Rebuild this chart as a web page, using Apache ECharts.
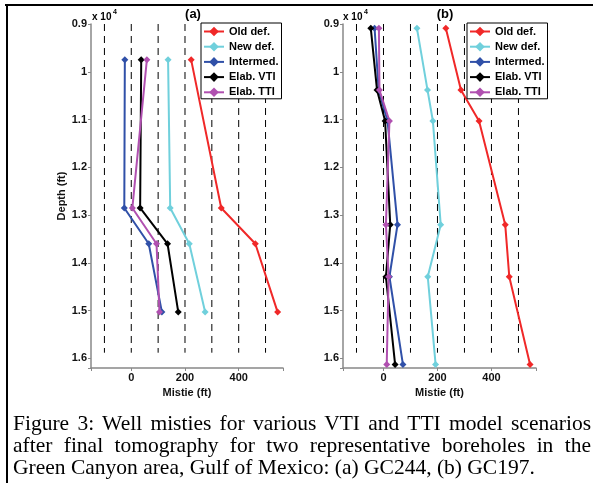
<!DOCTYPE html>
<html>
<head>
<meta charset="utf-8">
<script src="https://cdn.jsdelivr.net/npm/echarts@6/dist/echarts.min.js"></script>
<style>
html,body{margin:0;padding:0;background:#fff;}
#wrap{position:relative;width:593px;height:483px;overflow:hidden;background:#fff;}
#chart{position:absolute;left:0;top:0;width:593px;height:483px;}
#caption{position:absolute;left:13px;top:412px;width:578px;font-family:'Liberation Serif','Times New Roman',serif;font-size:21.5px;line-height:22px;color:#000;}
#caption .j{text-align:justify;text-align-last:justify;}
#caption .l{text-align:left;}
</style>
</head>
<body>
<div id="wrap">
  <div id="chart"></div>
  <div id="caption">
    <div class="j">Figure 3: Well misties for various VTI and TTI model scenarios</div>
    <div class="j">after final tomography for two representative boreholes in the</div>
    <div class="l">Green Canyon area, Gulf of Mexico: (a) GC244, (b) GC197.</div>
  </div>
</div>
<script>
// ---- data ----
const seriesNames = ['Old def.', 'New def.', 'Intermed.', 'Elab. VTI', 'Elab. TTI'];
const seriesColors = ['#f02828', '#70d0dc', '#3050a8', '#000000', '#b050b0'];

// (a) GC244 : depth (ft) and misties (ft)
const depthA = [9750, 12850, 13600, 15030];
const oldA   = [223, 335, 462, 545];
const newA   = [137, 145, 216, 275];
const interA = [-24, -26, 65, 114];
const vtiA   = [37, 33, 135, 175];
const ttiA   = [58, 4, 94, 105];

// (b) GC197
const depthB = [9090, 10380, 11030, 13200, 14290, 16125];
const oldB   = [231, 287, 354, 451, 466, 543];
const newB   = [124, 163, 183, 212, 164, 193];
const interB = [-33, -18, 15, 52, 22, 72];
const vtiB   = [-47, -24, 6, 25, 9, 43];
const ttiB   = [-17, -15, 22, 9, 19, 12];

// dashed reference lines (misties, ft) and their depth span
const refX = [-100, 0, 100, 200, 300, 400, 500];
const refDepth = [9000, 15880];

// axes
const xTickValues = [0, 200, 400];
const yTickValues = [9000, 10000, 11000, 12000, 13000, 14000, 15000, 16000];
const yTickLabels = ['0.9', '1', '1.1', '1.2', '1.3', '1.4', '1.5', '1.6'];
const panelLabels = ['(a)', '(b)'];

// ---- chart ----
const FONT = 'Liberation Sans, Arial, Helvetica, sans-serif';
const chart = echarts.init(document.getElementById('chart'), null, {renderer: 'canvas'});

const panels = [
  {depth: depthA, vals: [oldA, newA, interA, vtiA, ttiA]},
  {depth: depthB, vals: [oldB, newB, interB, vtiB, ttiB]}
];
const gridsPos = [
  {left: 91, top: 24, width: 192, height: 344},
  {left: 343, top: 24, width: 193, height: 344}
];

const grids = [], xAxes = [], yAxes = [], series = [], legends = [];
const axisColor = '#888';

panels.forEach((p, g) => {
  grids.push(Object.assign({containLabel: false}, gridsPos[g]));
  xAxes.push({
    gridIndex: g, type: 'value', min: -150, max: 565,
    splitNumber: 4, minInterval: 200, maxInterval: 200,
    axisLine: {show: true, onZero: false, lineStyle: {color: axisColor, width: 1.5}},
    axisTick: {show: true, inside: false, length: 3, lineStyle: {color: axisColor}},
    axisLabel: {margin: 4, fontFamily: FONT, fontWeight: 'bold', fontSize: 11, color: '#111',
      formatter: v => xTickValues.indexOf(v) >= 0 ? String(v) : ''},
    splitLine: {show: false},
    name: 'Mistie (ft)', nameLocation: 'middle', nameGap: 15,
    nameTextStyle: {fontFamily: FONT, fontWeight: 'bold', fontSize: 11, color: '#111'}
  });
  yAxes.push({
    gridIndex: g, type: 'value', inverse: true, min: 9000, max: 16200, interval: 1000,
    axisLine: {show: true, onZero: false, lineStyle: {color: axisColor, width: 1.5}},
    axisTick: {show: true, inside: false, length: 3, lineStyle: {color: axisColor}},
    axisLabel: {margin: 4, fontFamily: FONT, fontWeight: 'bold', fontSize: 11, color: '#111',
      formatter: v => { const i = yTickValues.indexOf(v); return i >= 0 ? yTickLabels[i] : ''; }},
    splitLine: {show: false},
    name: g === 0 ? 'Depth (ft)' : '', nameLocation: 'middle', nameGap: 21, nameRotate: 90,
    nameTextStyle: {fontFamily: FONT, fontWeight: 'bold', fontSize: 11, color: '#111'}
  });
  refX.forEach(x => {
    series.push({
      type: 'line', xAxisIndex: g, yAxisIndex: g, silent: true, symbol: 'none',
      data: [[x, refDepth[0]], [x, refDepth[1]]],
      lineStyle: {color: '#000', width: 1, type: [7, 5]}, z: 1, animation: false
    });
  });
  seriesNames.forEach((name, k) => {
    series.push({
      type: 'line', name: name, xAxisIndex: g, yAxisIndex: g,
      data: p.vals[k].map((v, i) => [v, p.depth[i]]),
      symbol: 'diamond', symbolSize: 7, color: seriesColors[k],
      lineStyle: {width: 2, color: seriesColors[k]},
      itemStyle: {color: seriesColors[k]},
      emphasis: {disabled: true}, z: 3, animation: false
    });
  });
  legends.push({
    data: seriesNames, orient: 'vertical',
    left: g === 0 ? 201 : 467, top: 23,
    padding: [3, 3, 1, 2], itemGap: 4.2, itemWidth: 20, itemHeight: 12,
    borderColor: '#000', borderWidth: 1, backgroundColor: '#fff',
    selectedMode: false, z: 10,
    textStyle: {fontFamily: FONT, fontWeight: 'bold', fontSize: 11, color: '#000'}
  });
});

const graphics = [
  {type: 'line', shape: {x1: 5, y1: 5, x2: 593, y2: 5}, style: {stroke: '#000', lineWidth: 2}, z: 20},
  {type: 'line', shape: {x1: 7, y1: 4, x2: 7, y2: 483}, style: {stroke: '#000', lineWidth: 2}, z: 20},
  {type: 'text', x: 193, y: 14, style: {text: panelLabels[0], font: 'bold 13px ' + FONT, fill: '#000', textAlign: 'center', textVerticalAlign: 'middle'}},
  {type: 'text', x: 445, y: 14, style: {text: panelLabels[1], font: 'bold 13px ' + FONT, fill: '#000', textAlign: 'center', textVerticalAlign: 'middle'}},
  {type: 'text', x: 92, y: 17, style: {text: 'x 10', font: 'bold 10px ' + FONT, fill: '#000', textAlign: 'left', textVerticalAlign: 'middle'}},
  {type: 'text', x: 113, y: 12, style: {text: '4', font: 'bold 7px ' + FONT, fill: '#000', textAlign: 'left', textVerticalAlign: 'middle'}},
  {type: 'text', x: 343, y: 17, style: {text: 'x 10', font: 'bold 10px ' + FONT, fill: '#000', textAlign: 'left', textVerticalAlign: 'middle'}},
  {type: 'text', x: 364, y: 12, style: {text: '4', font: 'bold 7px ' + FONT, fill: '#000', textAlign: 'left', textVerticalAlign: 'middle'}}
];

chart.setOption({
  animation: false,
  backgroundColor: '#fff',
  grid: grids, xAxis: xAxes, yAxis: yAxes,
  legend: legends, series: series, graphic: graphics
});
</script>
</body>
</html>
